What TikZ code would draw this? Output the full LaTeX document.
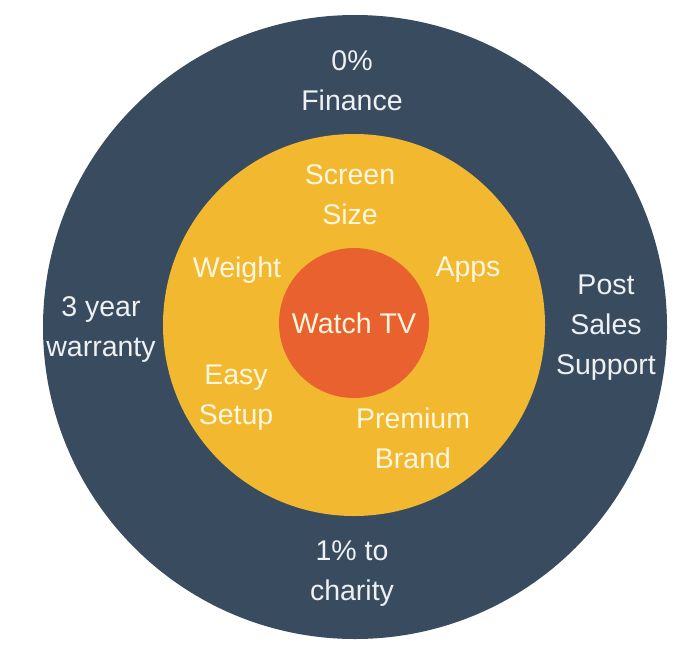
\documentclass[tikz,border=0pt]{standalone}
\usepackage{fontspec}
\setmainfont{Liberation Sans}
\usetikzlibrary{positioning}
\definecolor{OuterColor}{HTML}{394B5E}
\definecolor{MiddleColor}{HTML}{F2B830}
\definecolor{CoreColor}{HTML}{E8612F}
\definecolor{DarkText}{HTML}{EEF0F2}
\definecolor{WarmText}{HTML}{FFF6DE}

\begin{document}
\begin{tikzpicture}[
    x=1pt, y=-1pt,
    ring/.style={circle, inner sep=0pt, draw=none},
    outerring/.style={ring, fill=OuterColor, minimum size=624pt},
    middlering/.style={ring, fill=MiddleColor, minimum size=382pt},
    corering/.style={ring, fill=CoreColor, minimum size=150pt},
    label/.style={align=center, font=\fontsize{28.5}{40}\selectfont},
    outerlabel/.style={label, text=DarkText},
    innerlabel/.style={label, text=WarmText}
]
\useasboundingbox (0,0) rectangle (700,669);

%%%%%%%%%%%%%%%%%%%%%%%%%%%%%%%%%%%%%%%%%%%%%%%%%%%%%%%%%%%%%%%%%%%
% Rings
%%%%%%%%%%%%%%%%%%%%%%%%%%%%%%%%%%%%%%%%%%%%%%%%%%%%%%%%%%%%%%%%%%%
\node[outerring] (outer) at (355, 327) {};
\node[middlering] (middle) at (354, 325) {};
\node[corering] (core) at (354, 323) {};

%%%%%%%%%%%%%%%%%%%%%%%%%%%%%%%%%%%%%%%%%%%%%%%%%%%%%%%%%%%%%%%%%%%
% Core
%%%%%%%%%%%%%%%%%%%%%%%%%%%%%%%%%%%%%%%%%%%%%%%%%%%%%%%%%%%%%%%%%%%
\node[innerlabel] (watch) at (core.center) {Watch TV};

%%%%%%%%%%%%%%%%%%%%%%%%%%%%%%%%%%%%%%%%%%%%%%%%%%%%%%%%%%%%%%%%%%%
% Middle ring (product)
%%%%%%%%%%%%%%%%%%%%%%%%%%%%%%%%%%%%%%%%%%%%%%%%%%%%%%%%%%%%%%%%%%%
\node[innerlabel] (screen) at (350, 195) {Screen\\Size};
\node[innerlabel] (weight) at (237, 270) {Weight};
\node[innerlabel] (apps) at (468, 270) {Apps};
\node[innerlabel] (setup) at (236, 398) {Easy\\Setup};
\node[innerlabel] (brand) at (413, 438) {Premium\\Brand};

%%%%%%%%%%%%%%%%%%%%%%%%%%%%%%%%%%%%%%%%%%%%%%%%%%%%%%%%%%%%%%%%%%%
% Outer ring (augmented)
%%%%%%%%%%%%%%%%%%%%%%%%%%%%%%%%%%%%%%%%%%%%%%%%%%%%%%%%%%%%%%%%%%%
\node[outerlabel] (finance) at (352, 81) {0\%\\Finance};
\node[outerlabel] (warranty) at (101, 330) {3 year\\warranty};
\node[outerlabel] (support) at (606, 328) {Post\\Sales\\Support};
\node[outerlabel] (charity) at (352, 574) {1\% to\\charity};

\end{tikzpicture}
\end{document}
